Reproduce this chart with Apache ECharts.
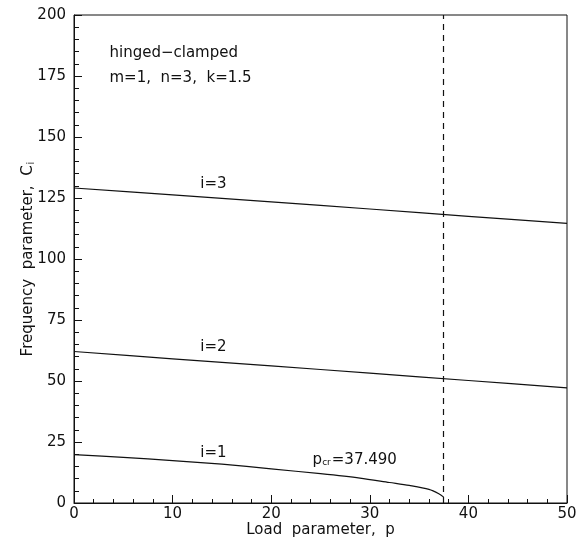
<!DOCTYPE html>
<html>
<head>
<meta charset="utf-8">
<script src="https://cdn.jsdelivr.net/npm/echarts@6/dist/echarts.min.js"></script>
<style>
  html, body { margin: 0; padding: 0; background: #fff; }
  #chart { width: 582px; height: 545px; }
</style>
</head>
<body>
<div id="chart"></div>
<script>
  // mode i=1 (ends at the critical load)
  var loadP1 = [0, 5, 10, 15, 20, 25, 29, 32, 34, 36, 37, 37.49]
  var freq1 = [19.8, 18.7, 17.4, 15.9, 14.0, 12.0, 10.2, 8.4, 7.2, 5.6, 3.8, 2.4]
  // modes i=2 and i=3
  var loadP = [0, 10, 20, 30, 40, 50]
  var freq2 = [62.1, 59.1, 56.2, 53.2, 50.2, 47.2]
  var freq3 = [129.1, 126.3, 123.4, 120.5, 117.5, 114.6]
  var pCritical = 37.49
  // text notes: [p, C, text]
  var notes = [
    [3.6, 184.4, 'hinged\u2212clamped'],
    [3.6, 174.1, 'm=1,  n=3,  k=1.5'],
    [12.8, 130.6, 'i=3'],
    [12.8, 63.7, 'i=2'],
    [12.8, 20.5, 'i=1'],
    [24.2, 17.7, '{p|p}{s|cr}{p|=37.490}']
  ]

  var font = 'DejaVu Sans'
  var ink = '#111'

  function pairs (xs, ys) {
    return xs.map(function (x, k) { return [x, ys[k]] })
  }

  var chart = echarts.init(document.getElementById('chart'))
  chart.setOption({
    animation: false,
    textStyle: {fontFamily: font, color: ink},
    grid: {
      left: 74, right: 15, top: 15, bottom: 42,
      show: true, borderColor: ink, borderWidth: 1
    },
    xAxis: {
      type: 'value', min: 0, max: 50, interval: 10,
      name: 'Load  parameter,  p',
      nameLocation: 'middle', nameGap: 20, nameMoveOverlap: false,
      nameTextStyle: {fontFamily: font, fontSize: 15, color: ink},
      axisLine: {lineStyle: {color: ink, width: 1}},
      axisTick: {inside: true, length: 8, lineStyle: {color: ink}},
      minorTick: {show: true, splitNumber: 5, length: 4, lineStyle: {color: ink}},
      axisLabel: {fontFamily: font, fontSize: 15, color: ink, margin: 4},
      splitLine: {show: false}
    },
    yAxis: {
      type: 'value', min: 0, max: 200, interval: 25,
      name: '{a|Frequency  parameter,  C}{s|i}',
      nameLocation: 'middle', nameGap: 38, nameMoveOverlap: false,
      nameTextStyle: {
        rich: {
          a: {fontFamily: font, fontSize: 15, color: ink},
          s: {fontFamily: font, fontSize: 10, color: ink, verticalAlign: 'bottom', padding: [0, 0, 0, 1]}
        }
      },
      axisLine: {lineStyle: {color: ink, width: 1}},
      axisTick: {inside: true, length: 8, lineStyle: {color: ink}},
      minorTick: {show: true, splitNumber: 5, length: 5, lineStyle: {color: ink}},
      axisLabel: {fontFamily: font, fontSize: 15, color: ink, margin: 8},
      splitLine: {show: false}
    },
    series: [
      {
        type: 'line', data: pairs(loadP1, freq1), smooth: 0.3,
        symbol: 'none', lineStyle: {color: ink, width: 1.2},
        markLine: {
          silent: true, symbol: 'none', label: {show: false},
          lineStyle: {color: ink, width: 1.2, type: [6, 5]},
          data: [{xAxis: pCritical}]
        }
      },
      {
        type: 'line', data: pairs(loadP, freq2), smooth: 0.3,
        symbol: 'none', lineStyle: {color: ink, width: 1.2}
      },
      {
        type: 'line', data: pairs(loadP, freq3), smooth: 0.3,
        symbol: 'none', lineStyle: {color: ink, width: 1.2}
      },
      {
        type: 'scatter', symbolSize: 0, silent: true,
        itemStyle: {opacity: 1, color: ink},
        data: notes.map(function (n) { return {value: [n[0], n[1]], text: n[2]} }),
        label: {
          show: true, position: [0, 0], align: 'left', verticalAlign: 'middle',
          fontFamily: font, fontSize: 15, color: ink,
          formatter: function (p) { return p.data.text },
          rich: {
            p: {fontFamily: font, fontSize: 15, color: ink},
            s: {fontFamily: font, fontSize: 9, color: ink, verticalAlign: 'bottom', padding: [0, 1, 0, 0]}
          }
        }
      }
    ]
  })
</script>
</body>
</html>
